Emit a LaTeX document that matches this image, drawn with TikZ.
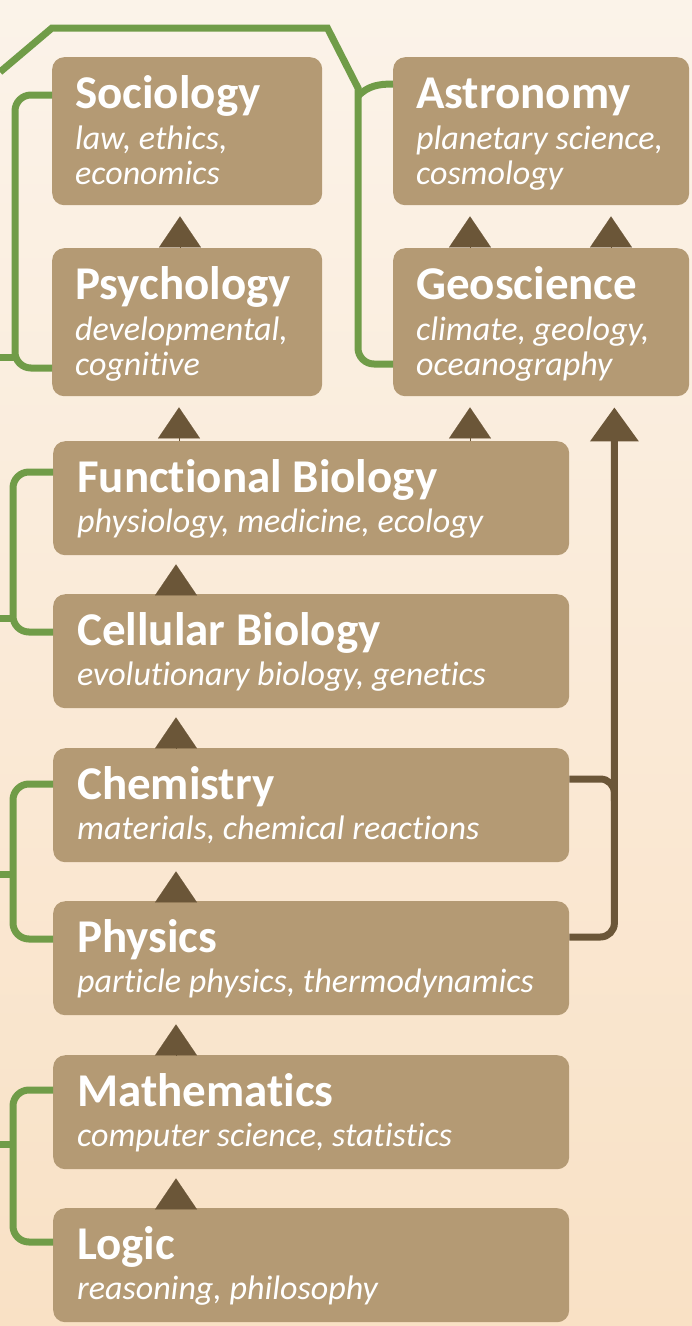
\documentclass[tikz,border=0pt]{standalone}
\usepackage{fontspec}
\setmainfont{Carlito}[Ligatures={NoCommon,NoContextual}]
\usepackage{tikz}
\usepackage{xcolor}
\usetikzlibrary{arrows.meta,positioning,calc}
\definecolor{fieldtan}{HTML}{B49A74}
\definecolor{risebrown}{HTML}{6B5638}
\definecolor{linkgreen}{HTML}{709C48}
\definecolor{bgtop}{HTML}{FBF3E9}
\definecolor{bgbottom}{HTML}{F9E1C5}
\tikzset{
  fieldBox/.style={fill=fieldtan, rounded corners=12pt, anchor=north west, inner sep=0pt},
  narrowBox/.style={fieldBox, minimum width=270pt, minimum height=148pt},
  sideBox/.style={fieldBox, minimum width=296pt, minimum height=148pt},
  wideBox/.style={fieldBox, minimum width=516pt, minimum height=114pt},
  headLabel/.style={anchor=base west, inner sep=0pt, text=white, font=\fontsize{47}{50}\selectfont\bfseries},
  noteLabel/.style={anchor=base west, inner sep=0pt, text=white, font=\fontsize{34}{36}\selectfont\itshape},
  riseTip/.style={-{Triangle[length=31pt,width=42pt]}, line width=0.1pt, draw=risebrown, shorten >=10pt},
  riseLine/.style={line width=7pt, draw=risebrown, rounded corners=14pt},
  linkLine/.style={line width=7pt, draw=linkgreen, rounded corners=16pt}
}

\begin{document}
\begin{tikzpicture}[x=1pt,y=-1pt]
  \useasboundingbox (0,0) rectangle (692,1326);
  \shade[top color=bgtop, bottom color=bgbottom] (0,0) rectangle (692,1326);
  % upper fields
  \node[narrowBox] (soc) at (52,57) {};
  \node[sideBox] (ast) at (393,57) {};
  \node[narrowBox] (psy) at (52,248) {};
  \node[sideBox] (geo) at (393,248) {};
  \foreach \id/\head/\noteA/\noteB in {soc/Sociology/{law, ethics,}/economics, ast/Astronomy/{planetary science,}/cosmology, psy/Psychology/{developmental,}/cognitive, geo/Geoscience/{climate, geology,}/oceanography} {
    \node[headLabel] (\id Head) at ([shift={(23,51)}]\id.north west) {\head};
    \node[noteLabel] (\id NoteA) at ([shift={(23,92)}]\id.north west) {\noteA};
    \node[noteLabel] (\id NoteB) at ([shift={(23,127)}]\id.north west) {\noteB};
  }
  % stacked fields
  \foreach \id/\top/\head/\note in {funbio/441/Functional Biology/{physiology, medicine, ecology}, celbio/594/Cellular Biology/{evolutionary biology, genetics}, chem/748/Chemistry/{materials, chemical reactions}, phys/901/Physics/{particle physics, thermodynamics}, math/1055/Mathematics/{computer science, statistics}, logic/1208/Logic/{reasoning, philosophy}} {
    \node[wideBox] (\id) at (53,\top) {};
    \node[headLabel] (\id Head) at ([shift={(24,51)}]\id.north west) {\head};
    \node[noteLabel] (\id Note) at ([shift={(24,91)}]\id.north west) {\note};
  }
  % green brackets on the left
  \foreach \upper/\lower/\edge/\ua/\lb/\bar in {soc/psy/357/38/120/37, funbio/celbio/618/31/38/40, chem/phys/874/36/38/40, math/logic/1144/35/34/40} {
    \draw[linkLine] ($(\upper.north west)+(0,\ua)$) -- ++(-\bar,0) coordinate (\upper Bar) -- ($(\lower.north west)+(-\bar,\lb)$) -- ($(\lower.north west)+(0,\lb)$);
    \coordinate (\upper Edge) at (0,\edge);
    \draw[linkLine] (\upper Edge) -- (\upper Edge -| \upper Bar);
  }
  % green link over the top
  \coordinate (topEdge) at (0,72);
  \draw[linkLine] (topEdge) [sharp corners] -- ($(soc.north west)+(0,-29)$) -- ($(soc.north east)+(5,-29)$) -- ($(ast.north west)+(-35,31)$) coordinate (astJoin) [rounded corners=16pt] -- ($(geo.north west)+(-35,116)$) -- ($(geo.north west)+(0,116)$);
  \draw[linkLine] ($(astJoin)+(0,8)$) to[out=45,in=180] ($(ast.north west)+(0,27)$);
  % rising arrows
  \draw[riseTip, shorten >=11pt] ([xshift=128pt]psy.north west) -- ([xshift=128pt]soc.south west);
  \draw[riseTip, shorten >=11pt] ([xshift=77pt]geo.north west) -- ([xshift=77pt]ast.south west);
  \draw[riseTip, shorten >=11pt] ([xshift=218pt]geo.north west) -- ([xshift=218pt]ast.south west);
  \draw[riseTip, shorten >=11pt] ([xshift=126pt]funbio.north west) -- ([xshift=127pt]psy.south west);
  \draw[riseTip, shorten >=11pt] ([xshift=417pt]funbio.north west) -- ([xshift=77pt]geo.south west);
  \foreach \low/\high in {celbio/funbio, chem/celbio, phys/chem, math/phys, logic/math}
    \draw[riseTip, shorten >=9pt] ([xshift=123pt]\low.north west) -- ([xshift=123pt]\high.south west);
  % brown bracket on the right
  \draw[riseLine] ($(chem.north east)+(0,31)$) -- ++(45,0) -- ++(0,22);
  \draw[riseLine, -{Triangle[length=34pt,width=47pt]}, shorten >=11pt] ($(phys.north east)+(0,36)$) -- ++(45,0) coordinate (physJoin) -- (physJoin |- geo.south);
\end{tikzpicture}
\end{document}
